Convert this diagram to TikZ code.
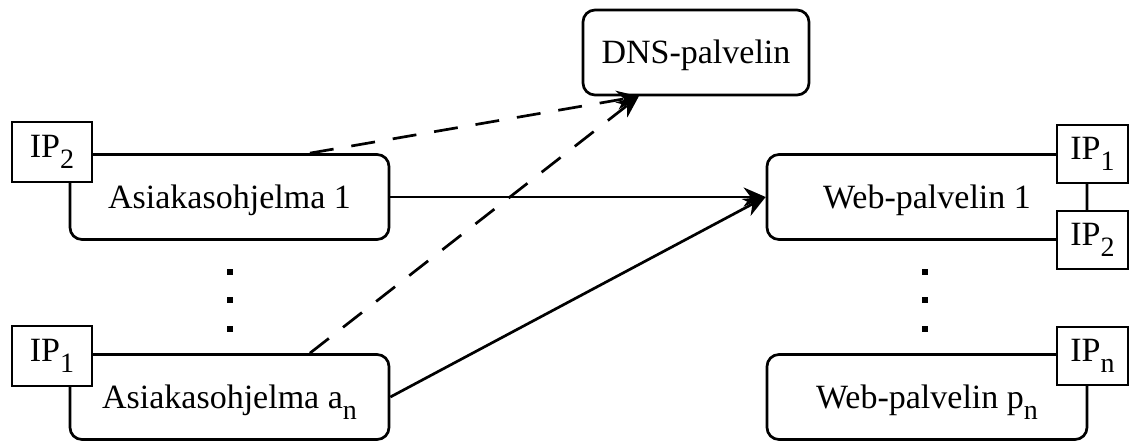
\documentclass[tikz,border=0pt]{standalone}
\usepackage{fontspec}
\setmainfont{Liberation Serif}
\usetikzlibrary{arrows.meta,calc}
\newcommand{\alaind}[1]{\raisebox{-0.33em}{\fontsize{28}{30}\selectfont #1}}

\begin{document}
\begin{tikzpicture}[x=1pt,y=-1pt,line width=2.7pt,
    laatikko/.style={draw,rounded corners=12pt,minimum width=319pt,minimum height=85pt,
      text height=26pt,text depth=4pt,font=\fontsize{34}{40}\selectfont},
    ip/.style={draw,fill=white,minimum width=80pt,minimum height=60pt,inner sep=0pt,
      font=\fontsize{34}{40}\selectfont},
    nuoli/.style={-{Stealth[length=22pt,width=19pt,inset=7pt]}},
    katko/.style={nuoli,dash pattern=on 24pt off 18pt}]
            \useasboundingbox (0,0) rectangle (1138,441);
            % asiakkaat
            \node[laatikko] (asiakas1) at (229.5,197) {Asiakasohjelma 1};
            \node[laatikko] (asiakasn) at (229.5,397) {Asiakasohjelma a\alaind{n}};
            \node[ip] (ipa2) at (52,152) {IP\alaind{2}};
            \node[ip] (ipa1) at (52,356) {IP\alaind{1}};
            % palvelimet
            \node[laatikko,minimum width=226pt] (dns) at (696,52.5) {DNS-palvelin};
            \node[laatikko,minimum width=320pt] (web1) at (927,197) {Web-palvelin 1};
            \node[laatikko,minimum width=320pt] (webn) at (927,397) {Web-palvelin p\alaind{n}};
            \node[ip,minimum width=71pt,minimum height=58pt] (ipw1) at (1092.5,154) {IP\alaind{1}};
            \node[ip,minimum width=71pt,minimum height=58pt] (ipw2) at (1092.5,240) {IP\alaind{2}};
            \node[ip,minimum width=71pt,minimum height=58pt] (ipwn) at (1092.5,356) {IP\alaind{n}};
            % pisteet
            \foreach \yy in {272,300,329} {
              \fill (227,\yy-3) rectangle (233,\yy+3);
              \fill (922,\yy-3) rectangle (928,\yy+3);
            }
            % yhteydet
            \coordinate (dnssisaan) at ($(dns.south west)!0.25!(dns.south east)$);
            \draw[katko] ($(asiakas1.north west)!0.75!(asiakas1.north east)$) -- (dnssisaan);
            \draw[katko] ($(asiakasn.north west)!0.75!(asiakasn.north east)$) -- (dnssisaan);
            \draw[nuoli] (asiakas1.east) -- (web1.west);
            \draw[nuoli] (asiakasn.east) -- (web1.west);
\end{tikzpicture}
\end{document}
